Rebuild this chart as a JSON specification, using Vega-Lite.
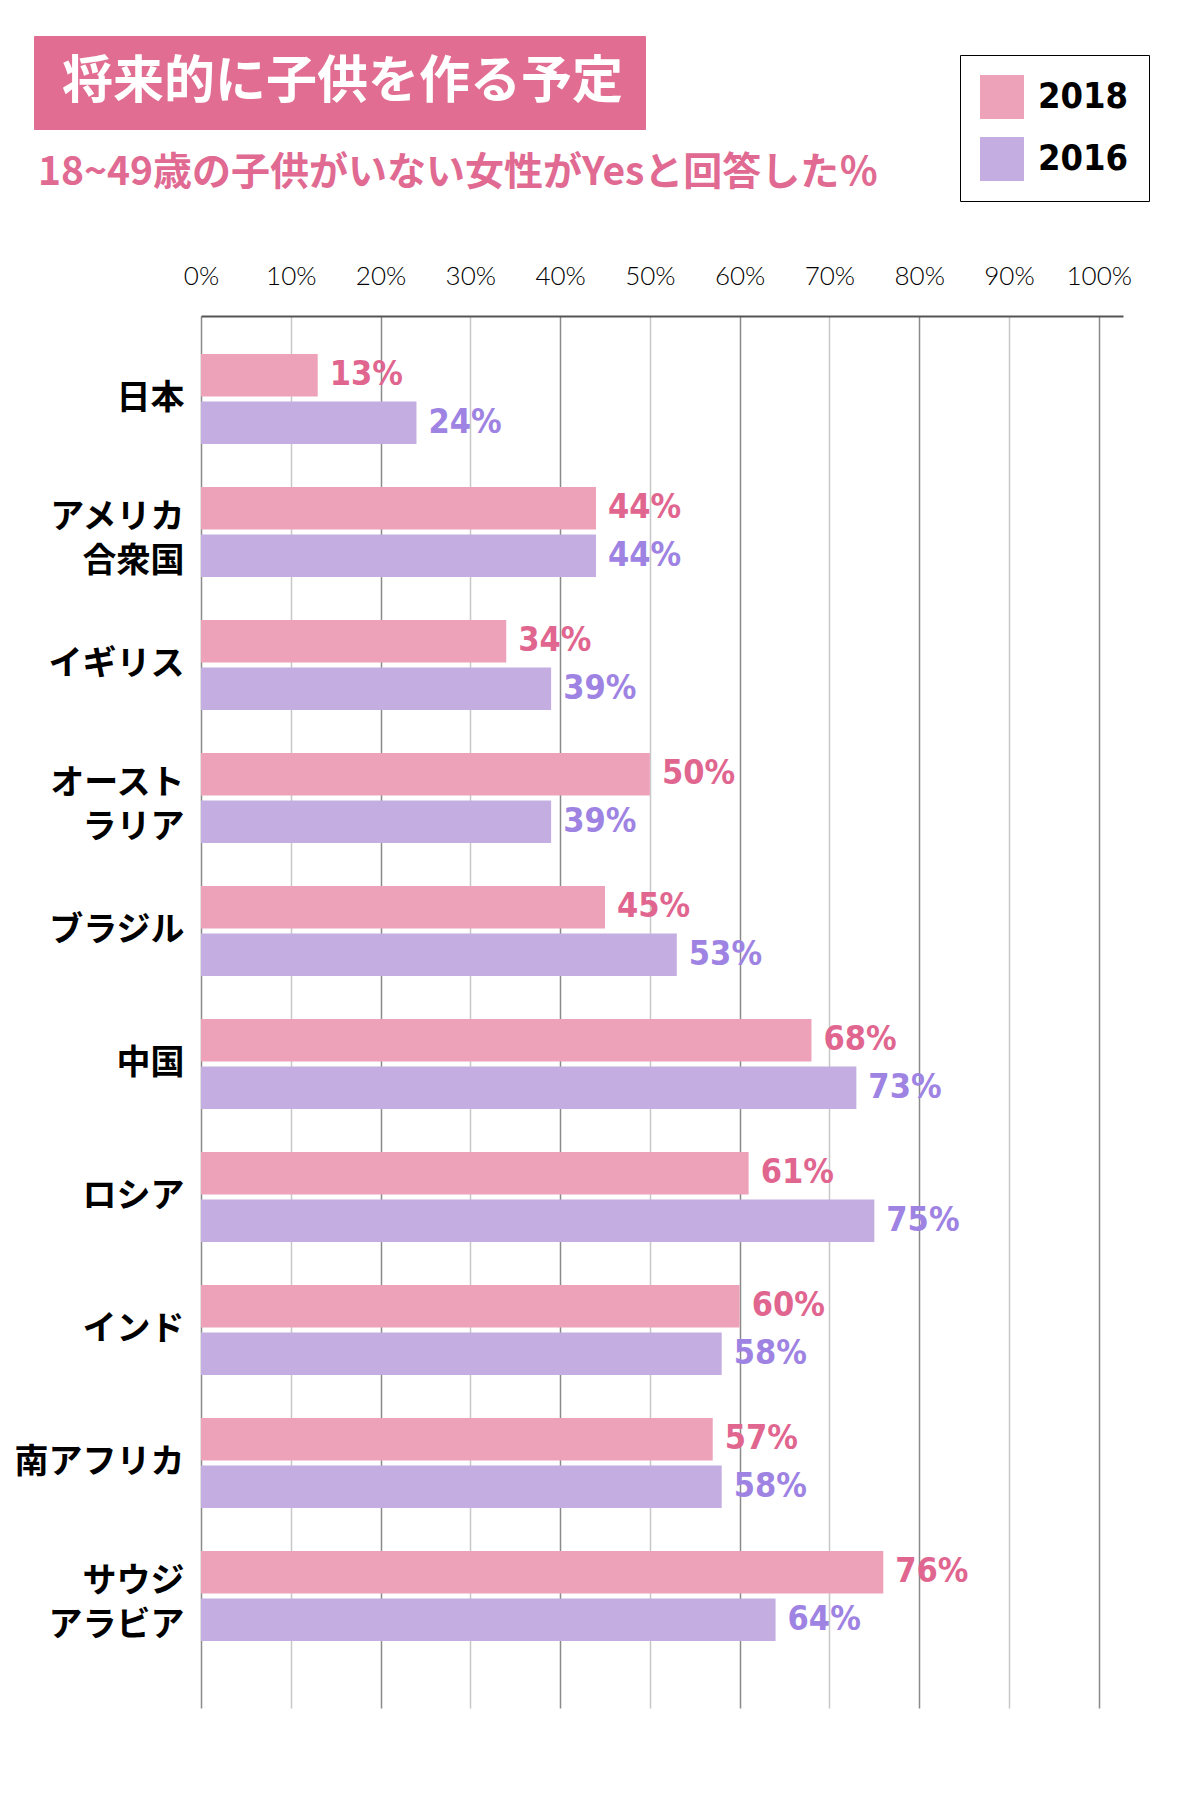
{
  "$schema": "https://vega.github.io/schema/vega-lite/v6.json",
  "autosize": {"type": "none"},
  "width": 922,
  "height": 1392,
  "padding": {"left": 201, "top": 316, "right": 77, "bottom": 92},
  "background": "white",
  "config": {"view": {"stroke": null}},
  "title": {
    "text": "18~49歳の子供がいない女性がYesと回答した％",
    "orient": "top", "anchor": "start", "frame": "group",
    "dx": -163, "offset": 0, "dy": 196, "baseline": "bottom",
    "font": "Noto Sans CJK JP", "fontSize": 39, "fontWeight": "bold", "color": "#E06A92"
  },
  "data": {
    "values": [
      {"country": "日本", "year": "2018", "value": 13, "label": "13%"},
      {"country": "日本", "year": "2016", "value": 24, "label": "24%"},
      {"country": "アメリカ合衆国", "year": "2018", "value": 44, "label": "44%"},
      {"country": "アメリカ合衆国", "year": "2016", "value": 44, "label": "44%"},
      {"country": "イギリス", "year": "2018", "value": 34, "label": "34%"},
      {"country": "イギリス", "year": "2016", "value": 39, "label": "39%"},
      {"country": "オーストラリア", "year": "2018", "value": 50, "label": "50%"},
      {"country": "オーストラリア", "year": "2016", "value": 39, "label": "39%"},
      {"country": "ブラジル", "year": "2018", "value": 45, "label": "45%"},
      {"country": "ブラジル", "year": "2016", "value": 53, "label": "53%"},
      {"country": "中国", "year": "2018", "value": 68, "label": "68%"},
      {"country": "中国", "year": "2016", "value": 73, "label": "73%"},
      {"country": "ロシア", "year": "2018", "value": 61, "label": "61%"},
      {"country": "ロシア", "year": "2016", "value": 75, "label": "75%"},
      {"country": "インド", "year": "2018", "value": 60, "label": "60%"},
      {"country": "インド", "year": "2016", "value": 58, "label": "58%"},
      {"country": "南アフリカ", "year": "2018", "value": 57, "label": "57%"},
      {"country": "南アフリカ", "year": "2016", "value": 58, "label": "58%"},
      {"country": "サウジアラビア", "year": "2018", "value": 76, "label": "76%"},
      {"country": "サウジアラビア", "year": "2016", "value": 64, "label": "64%"}
    ]
  },
  "encoding": {
    "y": {
      "field": "country", "type": "nominal", "sort": null,
      "scale": {"paddingInner": 0.323, "paddingOuter": 0.3947, "align": 0.362},
      "axis": {
        "title": null, "domain": false, "ticks": false, "grid": false,
        "labelFont": "Noto Sans CJK JP", "labelFontSize": 34, "labelFontWeight": "bold",
        "labelColor": "black", "labelPadding": 17, "labelLineHeight": 44, "labelLimit": 400,
        "labelOffset": {"condition": {"test": "indexof(['アメリカ合衆国','オーストラリア','サウジアラビア'], datum.value) >= 0", "value": -14}, "value": 0},
        "labelExpr": "datum.value === 'アメリカ合衆国' ? ['アメリカ','合衆国'] : datum.value === 'オーストラリア' ? ['オースト','ラリア'] : datum.value === 'サウジアラビア' ? ['サウジ','アラビア'] : datum.value"
      }
    },
    "yOffset": {
      "field": "year", "type": "nominal",
      "scale": {"domain": ["2018", "2016"], "paddingInner": 0.105, "paddingOuter": 0}
    },
    "x": {
      "field": "value", "type": "quantitative",
      "scale": {"domain": [0, 102.7], "nice": false},
      "axis": {
        "orient": "top", "title": null, "values": [0, 10, 20, 30, 40, 50, 60, 70, 80, 90, 100],
        "labelExpr": "datum.value + '%'", "labelFlush": false,
        "labelFont": "Lato", "labelFontSize": 26, "labelFontWeight": 300, "labelColor": "black",
        "labelPadding": 27, "ticks": false,
        "domain": true, "domainColor": "#555555", "domainWidth": 2,
        "grid": true, "gridWidth": 1.5,
        "gridColor": {"condition": {"test": "datum.value % 20 === 0", "value": "#8a8a8a"}, "value": "#c8c8c8"}
      }
    }
  },
  "layer": [
    {
      "mark": {"type": "bar"},
      "encoding": {
        "color": {
          "field": "year", "type": "nominal",
          "scale": {"domain": ["2018", "2016"], "range": ["#EEA2BA", "#C4AEE1"]},
          "legend": {
            "orient": "none", "legendX": 759, "legendY": -261, "title": null,
            "strokeColor": "black", "fillColor": "white", "padding": 20,
            "symbolType": "square", "symbolSize": 1936, "symbolStrokeWidth": 0, "symbolOpacity": 1,
            "rowPadding": 18, "labelOffset": 14,
            "labelFont": "DejaVu Sans Condensed", "labelFontSize": 36, "labelFontWeight": "bold", "labelColor": "black"
          }
        },
        "strokeDash": {
          "datum": "将来的に子供を作る予定",
          "legend": {
            "orient": "none", "legendX": -167, "legendY": -280, "title": null,
            "fillColor": "#E16D92", "strokeColor": "#E16D92", "padding": 21,
            "symbolType": "circle", "symbolSize": 1, "symbolOpacity": 0, "symbolStrokeWidth": 0,
            "labelOffset": -44, "labelLimit": 1000,
            "labelFont": "Noto Sans CJK JP", "labelFontSize": 51, "labelFontWeight": "bold", "labelColor": "white"
          }
        }
      }
    },
    {
      "mark": {"type": "text", "align": "left", "baseline": "middle", "dx": 12,
               "font": "DejaVu Sans Condensed", "fontSize": 34, "fontWeight": "bold"},
      "encoding": {
        "text": {"field": "label"},
        "fill": {
          "field": "year", "type": "nominal",
          "scale": {"domain": ["2018", "2016"], "range": ["#E0668F", "#9E83E3"]},
          "legend": null
        }
      }
    }
  ]
}
